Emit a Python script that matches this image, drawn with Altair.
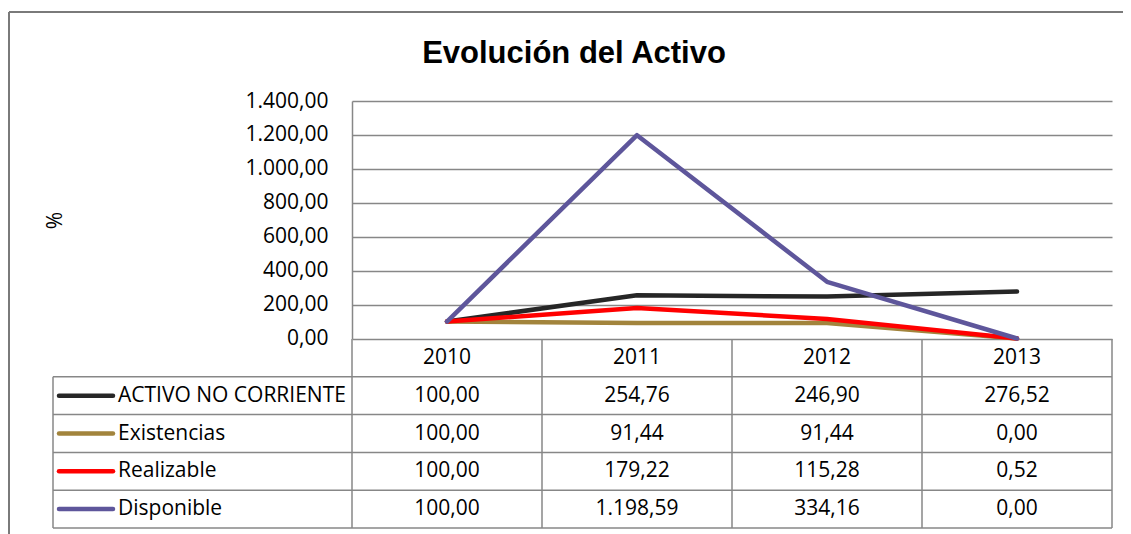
import altair as alt
import pandas as pd

# ---------------- data ----------------
years = ["2010", "2011", "2012", "2013"]
series = ["ACTIVO NO CORRIENTE", "Existencias", "Realizable", "Disponible"]
activo = [100.00, 254.76, 246.90, 276.52]
existencias = [100.00, 91.44, 91.44, 0.00]
realizable = [100.00, 179.22, 115.28, 0.52]
disponible = [100.00, 1198.59, 334.16, 0.00]
colors = ["#262626", "#A2843C", "#FF0000", "#5E569B"]
y_ticks = [0, 200, 400, 600, 800, 1000, 1200, 1400]
title_text = "Evolución del Activo"
y_title = "%"

values = [activo, existencias, realizable, disponible]


def es(v):
    s = f"{v:,.2f}"
    return s.replace(",", "#").replace(".", ",").replace("#", ".")


rows = []
for s, vals in zip(series, values):
    for yr, v in zip(years, vals):
        rows.append({"serie": s, "year": yr, "value": v, "label": es(v)})
df = pd.DataFrame(rows)

header_df = pd.DataFrame({"year": years, "row": ["header"] * len(years)})
names_df = pd.DataFrame({"serie": series})

# ---------------- layout ----------------
W = 760
H = 427
PLOT_H = 237.5
TABLE_TOP = 238
TABLE_BOT = 427
LEFT_COL = -299
FONT = "Open Sans"
FS = 21
GRID = "#878787"
PAD = {"left": 344, "top": 93, "right": 11, "bottom": 6}

table_rows = ["header"] + series

xscale = alt.Scale(type="band", domain=years, paddingInner=0, paddingOuter=0)


def rowscale():
    return alt.Scale(type="band", domain=table_rows, range=[TABLE_TOP, TABLE_BOT],
                     paddingInner=0, paddingOuter=0)


color = alt.Color("serie:N", scale=alt.Scale(domain=series, range=colors), legend=None)

label_expr = ("replace(replace(replace(format(datum.value, ',.2f'), ',', '#'), '.', ','), '#', '.')")

lines = alt.Chart(df).mark_line(strokeWidth=4.5, strokeCap="round", strokeJoin="round").encode(
    x=alt.X("year:N", scale=xscale, bandPosition=0.5, axis=None),
    y=alt.Y("value:Q",
            scale=alt.Scale(domain=[0, 1400], range=[PLOT_H, 0], nice=False, zero=True),
            axis=alt.Axis(values=y_ticks, labelExpr=label_expr, title=y_title,
                          titleAngle=-90, titleX=-297, titleY=119,
                          titleFont=FONT, titleFontSize=FS, titleFontWeight="normal",
                          titleColor="black", titleAlign="center", titleBaseline="middle",
                          labelFont=FONT, labelFontSize=FS, labelColor="black",
                          labelPadding=24, ticks=False, domainColor=GRID, domainWidth=1.5,
                          grid=True, gridColor=GRID, gridWidth=1.5, gridOpacity=1)),
    color=color,
)

# table: header years
header_text = alt.Chart(header_df).mark_text(font=FONT, fontSize=FS, color="black",
                                             align="center", baseline="middle").encode(
    x=alt.X("year:N", scale=xscale, bandPosition=0.5, axis=None),
    y=alt.Y("row:N", scale=rowscale(), bandPosition=0.5, axis=None),
    text="year:N",
)

cell_text = alt.Chart(df).mark_text(font=FONT, fontSize=FS, color="black",
                                     align="center", baseline="middle").encode(
    x=alt.X("year:N", scale=xscale, bandPosition=0.5, axis=None),
    y=alt.Y("serie:N", scale=rowscale(), bandPosition=0.5, axis=None),
    text="label:N",
)

name_text = alt.Chart(names_df).mark_text(font=FONT, fontSize=FS, color="black",
                                          align="left", baseline="middle").encode(
    x=alt.value(-234),
    y=alt.Y("serie:N", scale=rowscale(), bandPosition=0.5, axis=None),
    text="serie:N",
)

swatches = alt.Chart(names_df).mark_rule(strokeWidth=4.5, strokeCap="round").encode(
    x=alt.value(-293), x2=alt.value(-239),
    y=alt.Y("serie:N", scale=rowscale(), bandPosition=0.5, axis=None),
    color=color,
)

# table borders
hlines_rows = alt.Chart(names_df).mark_rule(color=GRID, strokeWidth=1.5).encode(
    x=alt.value(LEFT_COL), x2=alt.value(W),
    y=alt.Y("serie:N", scale=rowscale(), bandPosition=0, axis=None),
)
hline_bottom = alt.Chart(pd.DataFrame({"serie": [series[-1]]})).mark_rule(
    color=GRID, strokeWidth=1.5).encode(
    x=alt.value(LEFT_COL), x2=alt.value(W),
    y=alt.Y("serie:N", scale=rowscale(), bandPosition=1, axis=None),
)
vlines = alt.Chart(header_df).mark_rule(color=GRID, strokeWidth=1.5).encode(
    x=alt.X("year:N", scale=xscale, bandPosition=0, axis=None),
    y=alt.value(TABLE_TOP), y2=alt.value(TABLE_BOT),
)
vline_right = alt.Chart(pd.DataFrame({"year": [years[-1]]})).mark_rule(
    color=GRID, strokeWidth=1.5).encode(
    x=alt.X("year:N", scale=xscale, bandPosition=1, axis=None),
    y=alt.value(TABLE_TOP), y2=alt.value(TABLE_BOT),
)
vline_left = alt.Chart(pd.DataFrame({"serie": [series[0]]})).mark_rule(
    color=GRID, strokeWidth=1.5).encode(
    x=alt.value(LEFT_COL),
    y=alt.Y("serie:N", scale=rowscale(), bandPosition=0, axis=None),
    y2=alt.value(TABLE_BOT),
)

# outer frame
one = pd.DataFrame({"k": [0]})
frame_top = alt.Chart(one).mark_rule(color="#7a7a7a", strokeWidth=2).encode(
    x=alt.value(-343), x2=alt.value(W + PAD["right"]), y=alt.value(-89))
frame_left = alt.Chart(one).mark_rule(color="#7a7a7a", strokeWidth=2).encode(
    x=alt.value(-343), y=alt.value(-89), y2=alt.value(H + PAD["bottom"]))

title = alt.Chart(pd.DataFrame({"t": [title_text]})).mark_text(
    font="Liberation Sans", fontSize=31, fontWeight="bold", color="black",
    align="center", baseline="alphabetic").encode(
    x=alt.value(222), y=alt.value(-38.5), text="t:N")

chart = alt.layer(
    frame_top, frame_left, title,
    vlines, vline_right, vline_left, hlines_rows, hline_bottom,
    header_text, cell_text, name_text, swatches,
    lines,
).resolve_scale(y="independent").properties(
    width=W, height=H,
    autosize=alt.AutoSizeParams(type="none"),
    padding=PAD,
    background="white",
).configure_view(strokeWidth=0)

chart.save("out.html", embed_options={"renderer": "svg", "actions": False})
